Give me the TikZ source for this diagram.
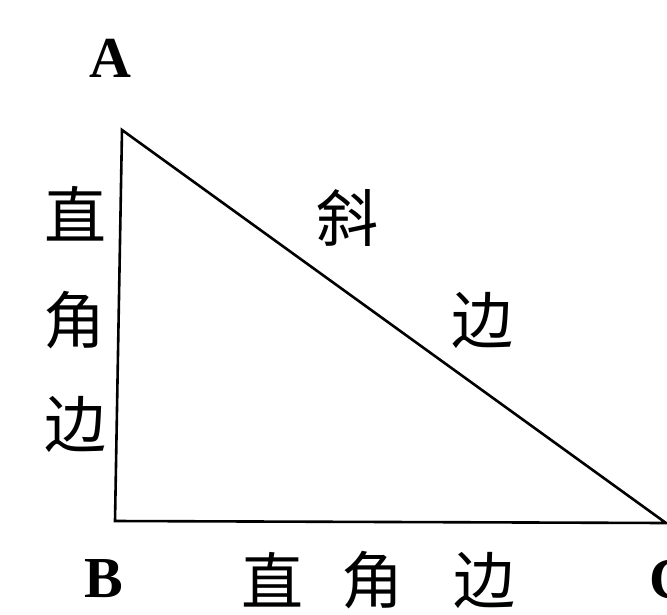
\documentclass[tikz,border=0pt]{standalone}
\usepackage{fontspec}
\setmainfont{Liberation Serif}
\newfontfamily\cjk{Noto Sans CJK SC}
\begin{document}
\begin{tikzpicture}[x=1pt,y=-1pt,
  edge/.style={draw=black,line width=2.6pt,line join=miter},
  vlabel/.style={inner sep=0pt,font=\fontsize{58}{58}\selectfont\bfseries},
  clabel/.style={inner sep=0pt,font=\cjk\fontsize{62}{62}\selectfont}]
\useasboundingbox[fill=white] (0,0) rectangle (667,614);
\coordinate (A) at (122,130);
\coordinate (B) at (115,521);
\coordinate (C) at (666,523);
\draw[edge] (A) -- (B) -- (C) -- cycle;
\node[vlabel] (la) at (110,58) {A};
\node[vlabel] (lb) at (104,579) {B};
\node[vlabel] (lc) at (670,580) {C};
\node[clabel] (h1) at (347,218) {斜};
\node[clabel] (h2) at (482,320) {边};
\node[clabel] (l1) at (76,214) {直};
\node[clabel] (l2) at (74,320) {角};
\node[clabel] (l3) at (76,424) {边};
\node[clabel] (b1) at (272,580) {直};
\node[clabel] (b2) at (372,580) {角};
\node[clabel] (b3) at (484,580) {边};
\end{tikzpicture}
\end{document}
